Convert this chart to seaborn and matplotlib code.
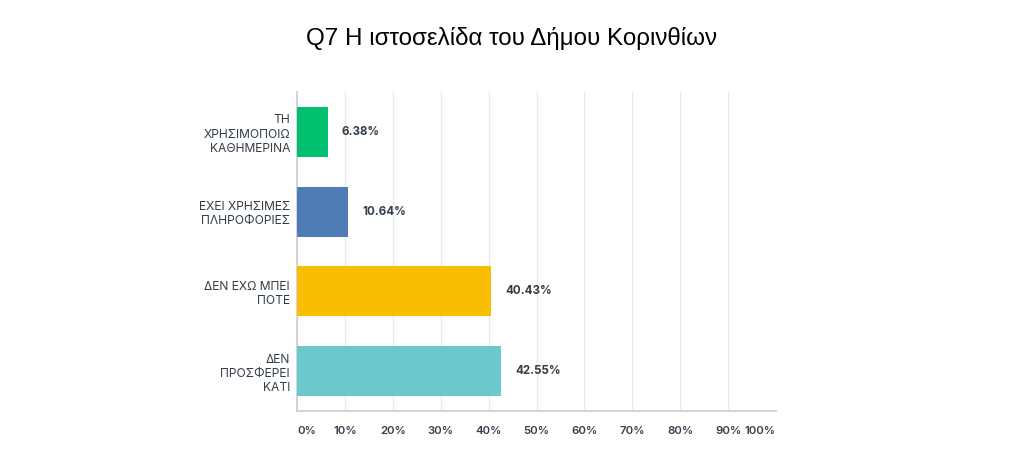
import matplotlib
matplotlib.use('Agg')
import matplotlib.pyplot as plt
import seaborn as sns
import pandas as pd

categories = ['ΤΗ\nΧΡΗΣΙΜΟΠΟΙΩ\nΚΑΘΗΜΕΡΙΝΑ',
              'ΕΧΕΙ ΧΡΗΣΙΜΕΣ\nΠΛΗΡΟΦΟΡΙΕΣ',
              'ΔΕΝ ΕΧΩ ΜΠΕΙ\nΠΟΤΕ',
              'ΔΕΝ\nΠΡΟΣΦΕΡΕΙ\nΚΑΤΙ']
values = [6.38, 10.64, 40.43, 42.55]
colors = ['#00BF6F', '#507CB6', '#F9BE00', '#6BC8CD']
ticks = [0, 10, 20, 30, 40, 50, 60, 70, 80, 90, 100]
tick_labels = [f'{t}%' for t in ticks]
title = 'Q7 Η ιστοσελίδα του Δήμου Κορινθίων'

sns.set_theme(style='white')
plt.rcParams['font.family'] = ['Inter', 'DejaVu Sans']

df = pd.DataFrame({'cat': categories, 'val': values})

fig = plt.figure(figsize=(10.24, 4.65), dpi=100)
ax = fig.add_axes([297/1024, 54/465, 479/1024, 319/465])

sns.barplot(data=df, x='val', y='cat', hue='cat', palette=colors,
            width=0.625, legend=False, ax=ax, saturation=1, zorder=3,
            linewidth=0)

ax.set_xlim(0, 100)
ax.set_ylim(3.5, -0.5)
ax.set_xticks(ticks)
ax.set_xticklabels(tick_labels, fontsize=8.2, color='#333e48', fontweight='semibold')
xl = ax.get_xticklabels()
xl[0].set_ha('left')
xl[-1].set_ha('right')
ax.tick_params(axis='x', length=0, pad=11)
ax.tick_params(axis='y', length=0, pad=5)
for lab in ax.get_yticklabels():
    lab.set_fontsize(8.7)
    lab.set_color('#333e48')
    lab.set_linespacing(1.25)
ax.set_xlabel('')
ax.set_ylabel('')
ax.grid(axis='x', color='#e8e8e8', linewidth=0.9, zorder=0)
for s in ['top', 'right']:
    ax.spines[s].set_visible(False)
ax.spines['left'].set_color('#cfcfcf')
ax.spines['bottom'].set_color('#cfcfcf')

for i, v in enumerate(values):
    ax.text(v + 3, i, f'{v:.2f}%', va='center', ha='left', fontsize=8.3,
            fontweight='bold', color='#333e48')

fig.text(0.5, 1 - 38/465, title, ha='center', va='center', fontsize=17.4,
         family=['Liberation Sans', 'DejaVu Sans'], color='#000000')

fig.savefig('out.png', dpi=100)
